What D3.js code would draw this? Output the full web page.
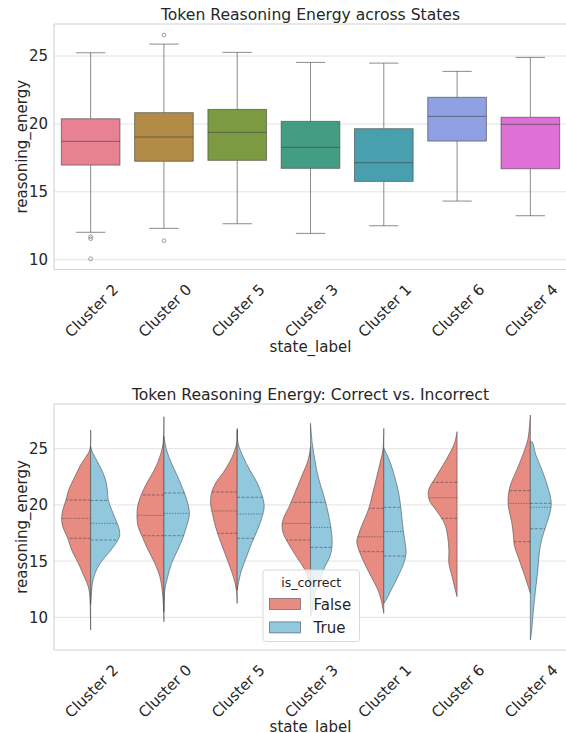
<!DOCTYPE html>
<html>
<head>
<meta charset="utf-8">
<script src="https://cdn.jsdelivr.net/npm/d3@7"></script>
<style>
  html, body { margin: 0; padding: 0; background: #ffffff; }
  svg { display: block; font-family: "DejaVu Sans", sans-serif; }
</style>
</head>
<body>
<svg id="chart" width="566" height="733"></svg>
<script>
// ---- data ---------------------------------------------------------------
const categories = ["Cluster 2", "Cluster 0", "Cluster 5", "Cluster 3", "Cluster 1", "Cluster 6", "Cluster 4"];
const yTicks = [10, 15, 20, 25];

// box plot summary per cluster
const whiskerLow  = [12.02, 12.31, 12.65, 11.94, 12.50, 14.32, 13.24];
const q1          = [16.97, 17.25, 17.32, 16.73, 15.77, 18.74, 16.70];
const medians     = [18.72, 19.04, 19.38, 18.28, 17.14, 20.56, 19.97];
const q3          = [20.38, 20.83, 21.07, 20.19, 19.65, 21.96, 20.49];
const whiskerHigh = [25.24, 25.88, 25.27, 24.53, 24.48, 23.87, 24.90];
const outliers    = [[11.70, 11.55, 10.07], [26.55, 11.40], [], [], [], [], []];
const boxColors   = ["#e68291", "#b28b46", "#7b9a41", "#439d82", "#489fad", "#8fa0e3", "#df70d6"];

// violin density profiles: [reasoning_energy, relative density]
const densityFalse = [
  [[26.66,0],[24.88,.03],[24.29,.16],[23.70,.31],[22.51,.54],[21.33,.75],[20.44,.84],[19.55,.95],[18.80,.99],[18.06,.95],[17.03,.78],[15.99,.65],[14.80,.42],[13.61,.22],[12.72,.08],[11.84,.03],[8.87,0]],
  [[27.85,0],[25.48,.03],[24.29,.14],[23.10,.33],[21.92,.59],[20.73,.80],[19.84,.90],[18.95,.92],[18.06,.88],[17.17,.74],[15.99,.54],[14.80,.31],[13.61,.14],[12.43,.06],[10.65,.01],[9.61,0]],
  [[26.81,0],[25.48,.02],[24.29,.17],[23.10,.42],[21.92,.74],[21.03,.88],[20.14,.91],[19.25,.85],[18.06,.74],[16.88,.59],[15.69,.42],[14.50,.25],[13.32,.10],[12.43,.03],[11.24,0]],
  [[25.18,0],[23.99,.08],[22.51,.31],[21.03,.54],[19.84,.73],[18.95,.90],[18.21,.97],[17.47,.93],[16.58,.76],[15.39,.48],[14.21,.19],[13.02,.04],[11.80,0]],
  [[26.81,0],[24.88,.03],[23.70,.13],[22.51,.24],[21.03,.38],[19.69,.51],[18.36,.72],[17.47,.85],[16.73,.92],[15.99,.85],[14.80,.66],[13.61,.43],[12.43,.20],[11.54,.09],[10.35,0]],
  [[26.52,0],[25.48,.09],[23.99,.38],[22.51,.72],[21.33,.97],[20.44,.95],[19.55,.72],[18.36,.43],[17.17,.32],[15.99,.28],[14.80,.28],[13.61,.17],[12.43,.06],[11.84,0]],
  [[28.00,0],[25.92,.08],[24.44,.26],[22.96,.49],[21.77,.68],[20.58,.76],[19.69,.74],[18.51,.64],[17.32,.58],[16.43,.55],[15.25,.40],[14.06,.24],[12.87,.09],[12.13,0]]
];
const densityTrue = [
  [[25.18,0],[24.88,.03],[23.99,.20],[23.10,.38],[22.22,.51],[21.33,.57],[20.44,.60],[19.55,.72],[18.66,.86],[17.77,.98],[17.17,.98],[16.58,.86],[15.69,.60],[14.80,.32],[13.91,.15],[13.02,.06],[11.84,.02],[11.20,0]],
  [[26.07,0],[24.88,.09],[23.70,.26],[22.51,.47],[21.33,.66],[20.44,.78],[19.55,.86],[18.95,.86],[18.06,.77],[17.17,.66],[15.99,.47],[14.80,.26],[13.61,.13],[12.43,.03],[11.24,.01],[10.50,0]],
  [[26.66,0],[25.48,.03],[24.29,.20],[23.10,.43],[21.92,.69],[20.73,.86],[19.84,.92],[18.95,.85],[17.77,.69],[16.58,.49],[15.39,.32],[14.21,.15],[13.02,.04],[12.43,0]],
  [[27.26,0],[25.48,.06],[23.99,.15],[22.51,.26],[21.03,.43],[19.55,.58],[18.06,.69],[16.58,.74],[15.39,.66],[14.50,.49],[13.32,.32],[12.13,.15],[10.65,.06],[10.06,0]],
  [[25.03,0],[23.99,.19],[22.51,.37],[21.03,.51],[19.55,.59],[18.06,.65],[16.58,.73],[15.69,.76],[14.80,.68],[13.61,.48],[12.43,.25],[11.54,.08],[11.24,0]],
  null,
  [[25.65,0],[25.60,.06],[24.44,.19],[22.96,.42],[21.47,.61],[20.29,.71],[19.40,.68],[18.21,.54],[17.03,.40],[15.84,.31],[14.06,.25],[12.28,.17],[10.50,.10],[8.72,.04],[7.98,0]]
];
// quartiles (Q3, median, Q1) per half
const quartFalse = [[20.44,18.80,17.03],[20.88,19.07,17.26],[21.15,19.46,17.47],[20.23,18.36,16.88],[19.70,17.17,15.84],[22.01,20.64,18.81],[21.27,20.14,16.73]];
const quartTrue  = [[20.40,18.36,16.88],[21.06,19.25,17.26],[20.68,19.19,17.03],[20.23,18.00,16.22],[19.79,17.62,15.45],null,[20.14,19.79,17.88]];

const hueLevels = ["False", "True"];
const hueColors = ["#e88b80", "#92c8de"];

// ---- layout -------------------------------------------------------------
const svg = d3.select("#chart");
const textColor = "#262626";
const gridColor = "#e2e2e2";
const spineColor = "#d2d2d2";
const lineColor = "#404040";
const plotLeft = 54, plotRight = 567;

const x = d3.scaleBand().domain(categories).range([plotLeft, plotRight]).padding(0);
const cx = c => x(c) + x.bandwidth() / 2;

function frame(top, bottom, domain, title) {
  const y = d3.scaleLinear().domain(domain).range([bottom, top]);
  const g = svg.append("g");
  // horizontal grid
  g.selectAll("line.grid").data(yTicks).join("line")
    .attr("x1", plotLeft).attr("x2", plotRight)
    .attr("y1", d => y(d)).attr("y2", d => y(d))
    .attr("stroke", gridColor).attr("stroke-width", 1);
  // spines
  g.append("line").attr("x1", plotLeft).attr("x2", plotRight).attr("y1", top).attr("y2", top)
    .attr("stroke", spineColor).attr("stroke-width", 1.1);
  g.append("line").attr("x1", plotLeft).attr("x2", plotRight).attr("y1", bottom).attr("y2", bottom)
    .attr("stroke", spineColor).attr("stroke-width", 1.1);
  g.append("line").attr("x1", plotLeft).attr("x2", plotLeft).attr("y1", top).attr("y2", bottom)
    .attr("stroke", spineColor).attr("stroke-width", 1.1);
  // y tick labels
  g.selectAll("text.ytick").data(yTicks).join("text")
    .attr("x", plotLeft - 6).attr("y", d => y(d)).attr("dy", "0.36em")
    .attr("text-anchor", "end").attr("font-size", 15).attr("fill", textColor)
    .text(d => d);
  // x tick labels, rotated
  g.selectAll("text.xtick").data(categories).join("text")
    .attr("text-anchor", "end").attr("font-size", 15).attr("fill", textColor)
    .attr("transform", d => `translate(${cx(d) + 28.5},${bottom + 21}) rotate(-45)`)
    .text(d => d);
  // axis titles
  g.append("text").attr("x", (plotLeft + plotRight) / 2).attr("y", bottom + 82)
    .attr("text-anchor", "middle").attr("font-size", 15).attr("fill", textColor).text("state_label");
  g.append("text").attr("transform", `translate(21.5,${(top + bottom) / 2}) rotate(-90)`)
    .attr("dy", "0.35em").attr("text-anchor", "middle").attr("font-size", 15).attr("fill", textColor)
    .text("reasoning_energy");
  g.append("text").attr("x", (plotLeft + plotRight) / 2).attr("y", top - 4)
    .attr("text-anchor", "middle").attr("font-size", 15.6).attr("fill", textColor).text(title);
  return y;
}

// ---- top: box plot ------------------------------------------------------
const yA = frame(24, 269.5, [9.28, 27.36], "Token Reasoning Energy across States");
const boxW = x.bandwidth() * 0.8;
const capW = boxW / 2;
const gBox = svg.append("g");
categories.forEach((c, i) => {
  const m = cx(c);
  const lineAttrs = s => s.attr("stroke", lineColor).attr("stroke-opacity", 0.6).attr("stroke-width", 1);
  // whiskers
  lineAttrs(gBox.append("line").attr("x1", m).attr("x2", m).attr("y1", yA(q3[i])).attr("y2", yA(whiskerHigh[i])));
  lineAttrs(gBox.append("line").attr("x1", m).attr("x2", m).attr("y1", yA(q1[i])).attr("y2", yA(whiskerLow[i])));
  lineAttrs(gBox.append("line").attr("x1", m - capW / 2).attr("x2", m + capW / 2).attr("y1", yA(whiskerHigh[i])).attr("y2", yA(whiskerHigh[i])));
  lineAttrs(gBox.append("line").attr("x1", m - capW / 2).attr("x2", m + capW / 2).attr("y1", yA(whiskerLow[i])).attr("y2", yA(whiskerLow[i])));
  // box
  gBox.append("rect").attr("x", m - boxW / 2).attr("width", boxW)
    .attr("y", yA(q3[i])).attr("height", yA(q1[i]) - yA(q3[i]))
    .attr("fill", boxColors[i]).attr("stroke", lineColor).attr("stroke-opacity", 0.6).attr("stroke-width", 1);
  // median
  lineAttrs(gBox.append("line").attr("x1", m - boxW / 2).attr("x2", m + boxW / 2).attr("y1", yA(medians[i])).attr("y2", yA(medians[i])));
  // fliers
  gBox.selectAll(null).data(outliers[i]).join("circle")
    .attr("cx", m).attr("cy", d => yA(d)).attr("r", 1.9)
    .attr("fill", "none").attr("stroke", lineColor).attr("stroke-opacity", 0.6).attr("stroke-width", 0.8);
});

// ---- bottom: split violins ---------------------------------------------
const yB = frame(404, 650, [7.09, 28.98], "Token Reasoning Energy: Correct vs. Incorrect");
const halfMax = x.bandwidth() * 0.4;
const gViol = svg.append("g");

function widthAt(profile, v) {
  for (let k = 0; k < profile.length - 1; k++) {
    const a = profile[k], b = profile[k + 1];
    if (v <= a[0] && v >= b[0]) {
      const t = (a[0] - v) / (a[0] - b[0]);
      return a[1] + t * (b[1] - a[1]);
    }
  }
  return 0;
}

function drawHalf(profile, quarts, m, side, color) {
  const area = d3.area()
    .y(d => yB(d[0]))
    .x0(m)
    .x1(d => m + side * d[1] * halfMax)
    .curve(d3.curveCatmullRom.alpha(0.5));
  gViol.append("path").attr("d", area(profile))
    .attr("fill", color).attr("stroke", lineColor).attr("stroke-opacity", 0.6)
    .attr("stroke-width", 0.9).attr("stroke-linejoin", "round");
  quarts.forEach((q, k) => {
    const w = widthAt(profile, q) * halfMax;
    gViol.append("line")
      .attr("x1", m).attr("x2", m + side * w)
      .attr("y1", yB(q)).attr("y2", yB(q))
      .attr("stroke", lineColor).attr("stroke-opacity", 0.6).attr("stroke-width", 0.9)
      .attr("stroke-dasharray", k === 1 ? "1.5,1.2" : "3,1.5");
  });
}

categories.forEach((c, i) => {
  const m = cx(c);
  if (densityFalse[i]) drawHalf(densityFalse[i], quartFalse[i], m, -1, hueColors[0]);
  if (densityTrue[i]) drawHalf(densityTrue[i], quartTrue[i], m, 1, hueColors[1]);
});

// legend
const lg = svg.append("g").attr("transform", "translate(263,570)");
lg.append("rect").attr("width", 96.5).attr("height", 71.5).attr("rx", 3)
  .attr("fill", "#ffffff").attr("fill-opacity", 0.8)
  .attr("stroke", "#d9d9d9").attr("stroke-width", 1);
lg.append("text").attr("x", 48.25).attr("y", 16.5).attr("text-anchor", "middle")
  .attr("font-size", 12.5).attr("fill", textColor).text("is_correct");
hueLevels.forEach((lvl, k) => {
  const yy = 28.5 + k * 23.4;
  lg.append("rect").attr("x", 6.5).attr("y", yy).attr("width", 31).attr("height", 11)
    .attr("fill", hueColors[k]).attr("stroke", lineColor).attr("stroke-opacity", 0.6).attr("stroke-width", 0.9);
  lg.append("text").attr("x", 50.5).attr("y", yy + 11).attr("font-size", 15)
    .attr("fill", textColor).text(lvl);
});
</script>
</body>
</html>
